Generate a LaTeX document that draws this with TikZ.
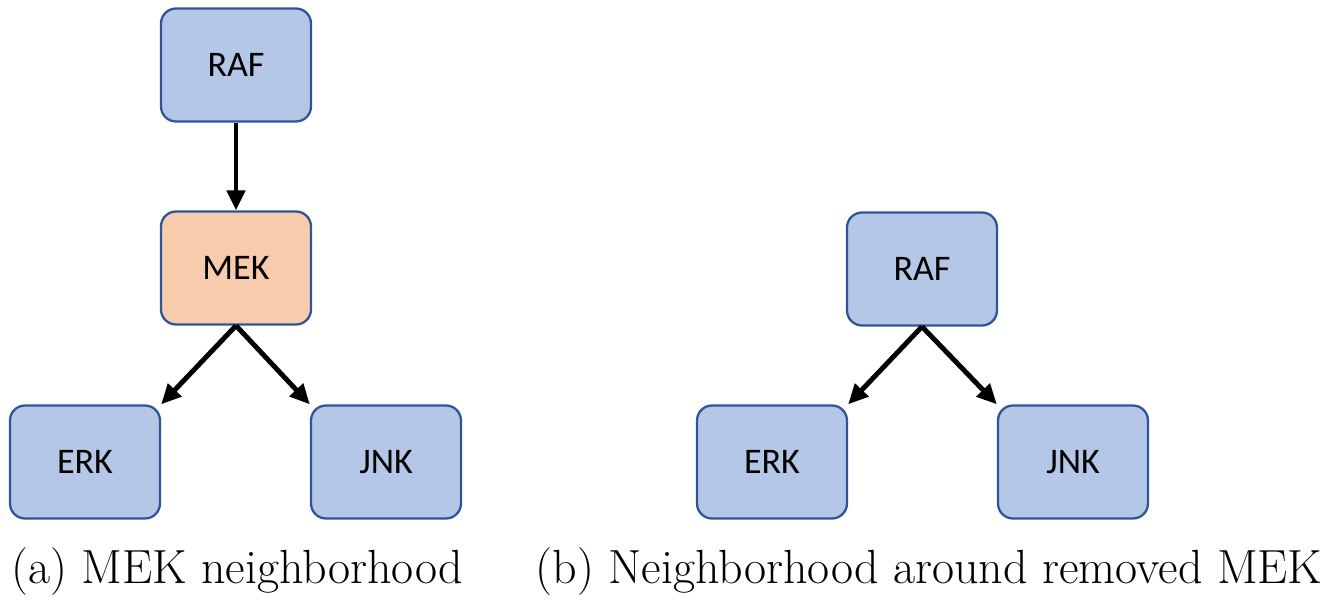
\documentclass[tikz,border=0pt]{standalone}
\usepackage{fontspec}
\newfontfamily\boxfont{Carlito}
\usetikzlibrary{arrows.meta}
\definecolor{boxblue}{HTML}{B4C7E7}
\definecolor{boxorange}{HTML}{F8CBAD}
\definecolor{boxedge}{HTML}{2F5597}
\begin{document}
\begin{tikzpicture}[x=0.02cm,y=-0.02cm,
  gene/.style={draw=boxedge,line width=1.3pt,fill=boxblue,rounded corners=0.3cm,
    minimum width=3cm,minimum height=2.26cm,inner sep=0pt,
    font=\boxfont\fontsize{20.5}{24}\selectfont},
  hit/.style={gene,fill=boxorange},
  link/.style={line width=2.8pt,-{Triangle[length=0.4cm,width=0.36cm]}},
  caption/.style={anchor=base,inner sep=0pt,font=\fontsize{27.3}{32}\selectfont}]
\useasboundingbox (0,0) rectangle (1340,601);
% (a) neighbourhood of MEK
\node[gene] (raf) at (236,65) {RAF};
\node[hit]  (mek) at (236,268) {MEK};
\node[gene] (erk) at (85,462) {ERK};
\node[gene] (jnk) at (386,462) {JNK};
\draw[link] (raf.south) -- (mek.north);
\draw[link] (mek.south) -- (erk.north east);
\draw[link] (mek.south) -- (jnk.north west);
\node[caption] (capa) at (237,583) {(a) MEK neighborhood};
% (b) the same neighbourhood with MEK taken out
\node[gene] (raf2) at (922,269) {RAF};
\node[gene] (erk2) at (772,462) {ERK};
\node[gene] (jnk2) at (1073,462) {JNK};
\draw[link] (raf2.south) -- (erk2.north east);
\draw[link] (raf2.south) -- (jnk2.north west);
\node[caption] (capb) at (929,583) {(b) Neighborhood around removed MEK};
\end{tikzpicture}
\end{document}
